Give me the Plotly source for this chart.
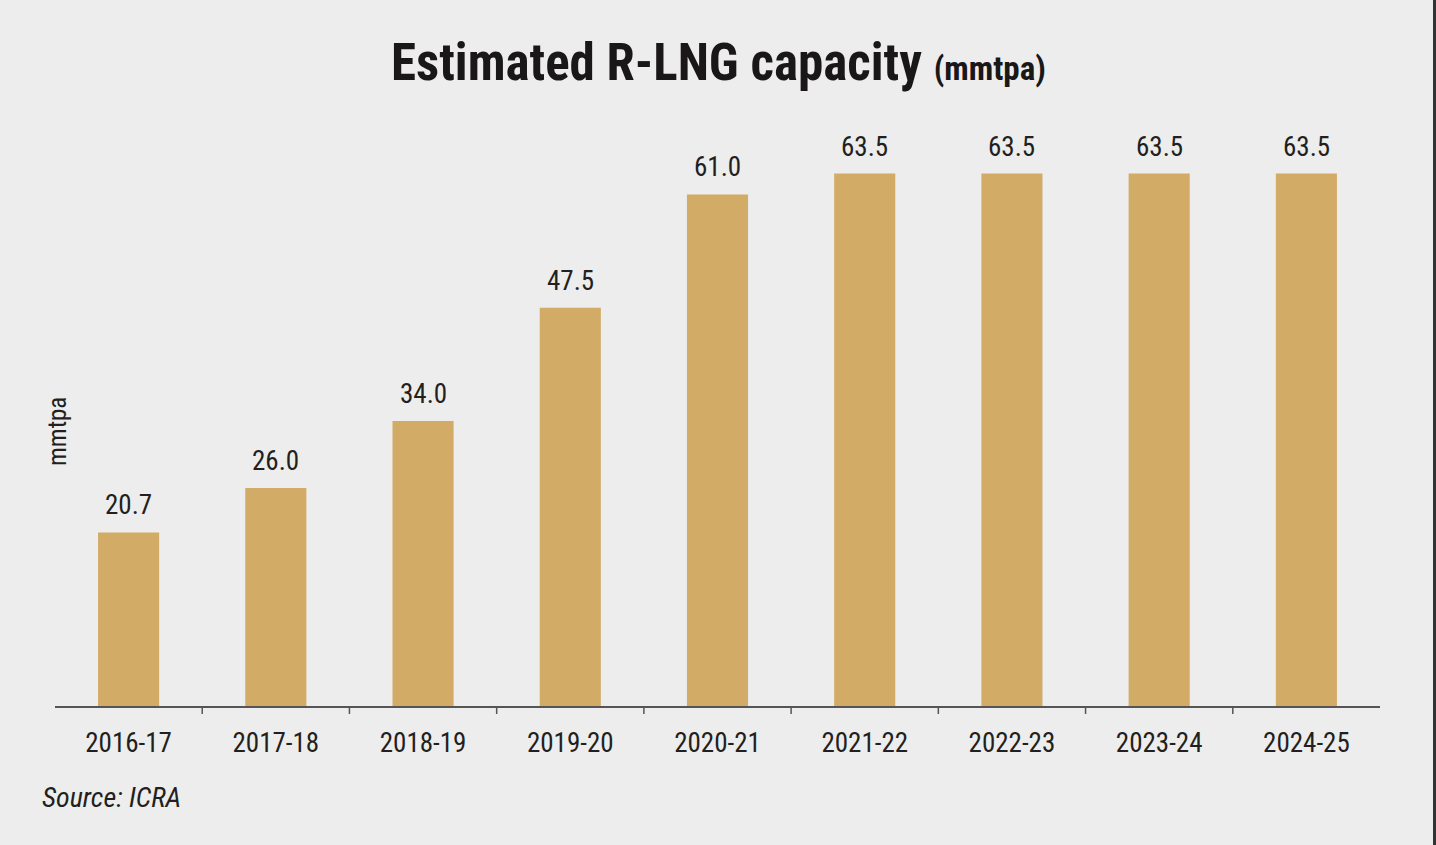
import plotly.graph_objects as go

years = ["2016-17", "2017-18", "2018-19", "2019-20", "2020-21",
         "2021-22", "2022-23", "2023-24", "2024-25"]
capacity = [20.7, 26.0, 34.0, 47.5, 61.0, 63.5, 63.5, 63.5, 63.5]
value_labels = ["20.7", "26.0", "34.0", "47.5", "61.0", "63.5", "63.5", "63.5", "63.5"]

BG = "#EDEDED"
BAR = "#D2AB67"
TXT = "#231F20"
NARROW = "Liberation Sans Narrow, Roboto Condensed, Arial Narrow, Roboto, sans-serif"

fig = go.Figure()
fig.add_trace(go.Bar(x=years, y=capacity, marker=dict(color=BAR, line=dict(width=0)),
                     hoverinfo="skip"))

for x, y, t in zip(years, capacity, value_labels):
    fig.add_annotation(x=x, y=y, text=t, showarrow=False, yanchor="bottom",
                       yshift=9, font=dict(family=NARROW, size=27, color=TXT))

W, H = 1436, 845
L, R, T, B = 55, 56, 119, 139
PW, PH = W - L - R, H - T - B

fig.add_annotation(xref="paper", yref="paper", x=(718 - L) / PW, y=1 + (119 - 62) / PH,
                   text="<b>Estimated R-LNG capacity</b> <b><span style='font-size:33px'>(mmtpa)</span></b>",
                   showarrow=False, xanchor="center", yanchor="middle",
                   font=dict(family=NARROW, size=51, color="#1A1718"))
fig.add_annotation(xref="paper", yref="paper", x=(57 - L) / PW, y=(706 - 432) / PH,
                   text="mmtpa", textangle=-90, showarrow=False,
                   xanchor="center", yanchor="middle",
                   font=dict(family=NARROW, size=25, color=TXT))
fig.add_annotation(xref="paper", yref="paper", x=(40 - L) / PW, y=-(797 - 706) / PH,
                   text="<i>Source: ICRA</i>", showarrow=False,
                   xanchor="left", yanchor="middle",
                   font=dict(family=NARROW, size=28, color=TXT))
fig.add_shape(type="line", xref="paper", yref="paper",
              x0=(1434.5 - L) / PW, x1=(1434.5 - L) / PW,
              y0=-(H - 706) / PH, y1=1 + T / PH,
              line=dict(color="#333333", width=3))

fig.update_layout(
    width=W, height=H,
    margin=dict(l=L, r=R, t=T, b=B, autoexpand=False),
    paper_bgcolor=BG, plot_bgcolor=BG,
    bargap=0.585,
    showlegend=False,
    xaxis=dict(showline=True, linecolor="#555555", linewidth=1.5,
               ticks="", showgrid=False, zeroline=False,
               tickfont=dict(family=NARROW, size=27, color=TXT),
               ticklabelstandoff=12),
    yaxis=dict(range=[0, 70], visible=False, showgrid=False, zeroline=False),
)

# tick marks between categories
for i in range(1, len(years)):
    fig.add_shape(type="line", xref="x", yref="paper",
                  x0=i - 0.5, x1=i - 0.5, y0=0, y1=-8 / PH,
                  line=dict(color="#555555", width=1.5))

fig.write_html("out.html", config={"displayModeBar": False},
               post_script="document.body.style.margin='0';document.body.style.background='#EDEDED';")
